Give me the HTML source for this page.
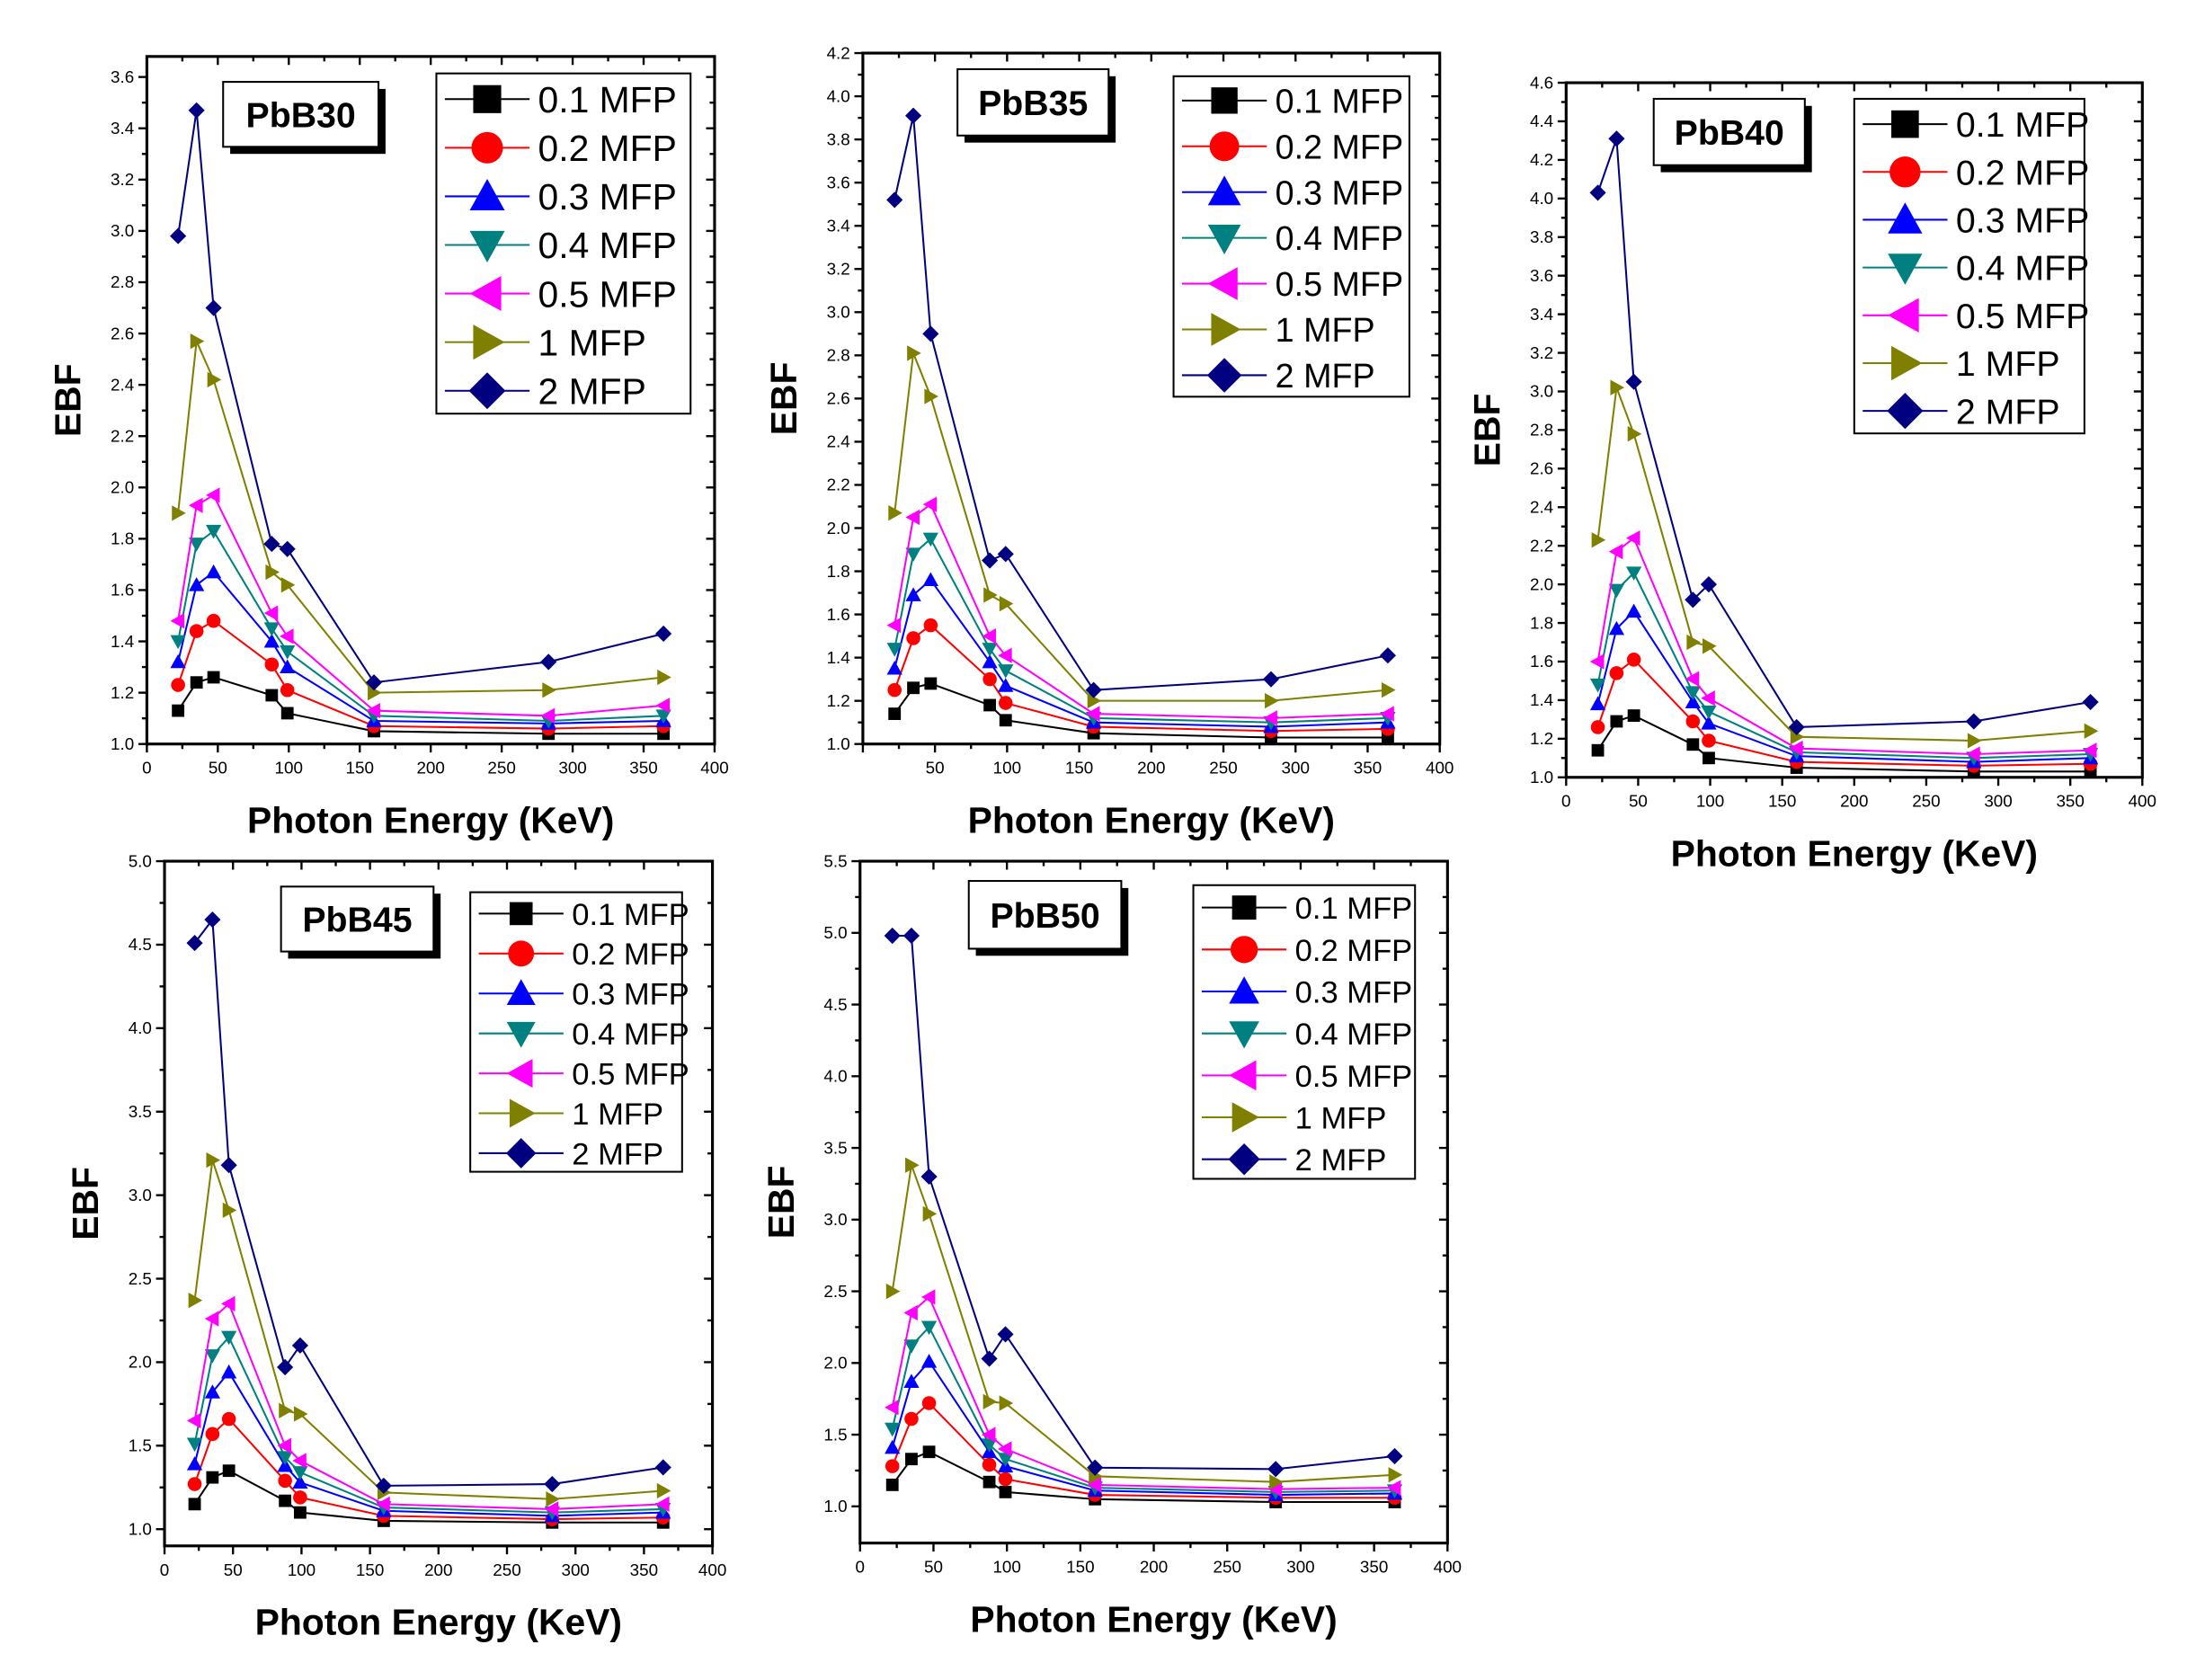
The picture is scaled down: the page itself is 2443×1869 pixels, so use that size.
<!DOCTYPE html>
<html><head><meta charset="utf-8"><style>
html,body{margin:0;padding:0;background:#fff}
svg{display:block}
text{font-family:"Liberation Sans",Arial,sans-serif}
</style></head><body>
<svg id="fig" width="2443" height="1869" viewBox="0 0 1555 1190" preserveAspectRatio="none" xmlns="http://www.w3.org/2000/svg"></svg>
<script>
const energies=[22,35,47,88,99,160,283,364];
const seriesNames=["0.1 MFP","0.2 MFP","0.3 MFP","0.4 MFP","0.5 MFP","1 MFP","2 MFP"];
const xTicks=[0,50,100,150,200,250,300,350,400];
const pbb30=[[1.13,1.24,1.26,1.19,1.12,1.05,1.04,1.04],[1.23,1.44,1.48,1.31,1.21,1.07,1.06,1.07],[1.32,1.62,1.67,1.40,1.30,1.09,1.08,1.09],[1.40,1.78,1.83,1.45,1.36,1.11,1.09,1.11],[1.48,1.93,1.97,1.51,1.42,1.13,1.11,1.15],[1.90,2.57,2.42,1.67,1.62,1.20,1.21,1.26],[2.98,3.47,2.70,1.78,1.76,1.24,1.32,1.43]];
const pbb35=[[1.14,1.26,1.28,1.18,1.11,1.05,1.03,1.03],[1.25,1.49,1.55,1.30,1.19,1.08,1.06,1.07],[1.35,1.69,1.76,1.38,1.27,1.10,1.08,1.10],[1.44,1.88,1.95,1.44,1.34,1.12,1.10,1.12],[1.55,2.05,2.11,1.50,1.41,1.14,1.12,1.14],[2.07,2.81,2.61,1.69,1.65,1.20,1.20,1.25],[3.52,3.91,2.90,1.85,1.88,1.25,1.30,1.41]];
const pbb40=[[1.14,1.29,1.32,1.17,1.10,1.05,1.03,1.03],[1.26,1.54,1.61,1.29,1.19,1.08,1.06,1.07],[1.38,1.77,1.86,1.39,1.28,1.11,1.08,1.10],[1.48,1.97,2.06,1.44,1.34,1.13,1.10,1.12],[1.60,2.17,2.24,1.51,1.41,1.15,1.12,1.14],[2.23,3.02,2.78,1.70,1.68,1.21,1.19,1.24],[4.03,4.31,3.05,1.92,2.00,1.26,1.29,1.39]];
const pbb45=[[1.15,1.31,1.35,1.17,1.10,1.05,1.04,1.04],[1.27,1.57,1.66,1.29,1.19,1.08,1.06,1.07],[1.39,1.82,1.94,1.38,1.28,1.11,1.08,1.10],[1.51,2.04,2.15,1.43,1.34,1.13,1.10,1.12],[1.65,2.26,2.35,1.50,1.41,1.15,1.12,1.15],[2.37,3.21,2.91,1.71,1.69,1.22,1.18,1.23],[4.51,4.65,3.18,1.97,2.10,1.26,1.27,1.37]];
const pbb50=[[1.15,1.33,1.38,1.17,1.10,1.05,1.03,1.03],[1.28,1.61,1.72,1.29,1.19,1.08,1.06,1.06],[1.41,1.87,2.01,1.38,1.28,1.11,1.08,1.09],[1.54,2.12,2.25,1.43,1.33,1.13,1.10,1.11],[1.69,2.35,2.46,1.50,1.40,1.15,1.12,1.13],[2.50,3.38,3.04,1.73,1.72,1.21,1.17,1.22],[4.98,4.98,3.30,2.03,2.20,1.27,1.26,1.35]];
const yTicks30=[1.0,1.2,1.4,1.6,1.8,2.0,2.2,2.4,2.6,2.8,3.0,3.2,3.4,3.6];
const yTicks35=[1.0,1.2,1.4,1.6,1.8,2.0,2.2,2.4,2.6,2.8,3.0,3.2,3.4,3.6,3.8,4.0,4.2];
const yTicks40=[1.0,1.2,1.4,1.6,1.8,2.0,2.2,2.4,2.6,2.8,3.0,3.2,3.4,3.6,3.8,4.0,4.2,4.4,4.6];
const yTicks45=[1.0,1.5,2.0,2.5,3.0,3.5,4.0,4.5,5.0];
const yTicks50=[1.0,1.5,2.0,2.5,3.0,3.5,4.0,4.5,5.0,5.5];

const colors=["#000000","#ff0000","#0000ff","#008080","#ff00ff","#808000","#000080"];
const shapes=["square","circle","up","down","left","right","diamond"];
const NS="http://www.w3.org/2000/svg";
const svg=document.getElementById("fig");
function el(tag,attrs,parent){const e=document.createElementNS(NS,tag);for(const k in attrs)e.setAttribute(k,attrs[k]);(parent||svg).appendChild(e);return e;}
function marker(g,shape,cx,cy,s,color){
  let e;
  if(shape==="square")e=el("rect",{x:cx-s*0.8,y:cy-s*0.8,width:s*1.6,height:s*1.6},g);
  else if(shape==="circle")e=el("circle",{cx:cx,cy:cy,r:s*0.9},g);
  else{let p;
    if(shape==="up")p=[[cx,cy-s],[cx+s,cy+s*0.8],[cx-s,cy+s*0.8]];
    else if(shape==="down")p=[[cx,cy+s],[cx+s,cy-s*0.8],[cx-s,cy-s*0.8]];
    else if(shape==="left")p=[[cx-s,cy],[cx+s*0.8,cy-s],[cx+s*0.8,cy+s]];
    else if(shape==="right")p=[[cx+s,cy],[cx-s*0.8,cy-s],[cx-s*0.8,cy+s]];
    else p=[[cx,cy-s*1.05],[cx+s*1.05,cy],[cx,cy+s*1.05],[cx-s*1.05,cy]];
    e=el("polygon",{points:p.map(q=>q.join(",")).join(" ")},g);}
  e.setAttribute("fill",color);
  return e;
}
const panels=[
 {name:"PbB30",data:pbb30,yt:yTicks30,L:104,R:506,T:40,B:527,ymin:1.0,ymax:3.68,minor:0.1,zero:true,title:[158,58,110,46],leg:[309,52,180,241],fs:26},
 {name:"PbB35",data:pbb35,yt:yTicks35,L:611,R:1019.5,T:37.6,B:527,ymin:1.0,ymax:4.2,minor:0.1,zero:false,title:[678,49,107,47],leg:[831,54,167,227],fs:24},
 {name:"PbB40",data:pbb40,yt:yTicks40,L:1109,R:1517,T:58.6,B:550.6,ymin:1.0,ymax:4.6,minor:0.1,zero:true,title:[1171,70,107,47],leg:[1313,70,163,237],fs:25},
 {name:"PbB45",data:pbb45,yt:yTicks45,L:116.5,R:504.5,T:610,B:1095,ymin:0.9,ymax:5.0,minor:0.25,zero:true,title:[199,628,108,46],leg:[333,632,150,198],fs:22},
 {name:"PbB50",data:pbb50,yt:yTicks50,L:609,R:1025,T:610,B:1093,ymin:0.744,ymax:5.5,minor:0.25,zero:true,title:[686,624,108,48],leg:[845,627,157,208],fs:22}
];
panels.forEach((p,pi)=>{
  const g=el("g",{});
  
  
  const xs=v=>p.L+(v-0)/400*(p.R-p.L);
  const ys=v=>p.B-(v-p.ymin)/(p.ymax-p.ymin)*(p.B-p.T);
  xTicks.forEach(t=>{
    const x=xs(t);
    el("line",{x1:x,y1:p.B,x2:x,y2:p.B+6,stroke:"#000","stroke-width":1.5},g);
    el("line",{x1:x,y1:p.T,x2:x,y2:p.T+6,stroke:"#000","stroke-width":1.5},g);
    if(t<400){const xm=xs(t+25);
      el("line",{x1:xm,y1:p.B,x2:xm,y2:p.B+3.5,stroke:"#000","stroke-width":1.5},g);
      el("line",{x1:xm,y1:p.T,x2:xm,y2:p.T+3.5,stroke:"#000","stroke-width":1.5},g);}
    if(t===0&&!p.zero)return;
    const tx=el("text",{x:x,y:p.B+21,"font-size":12,"text-anchor":"middle"},g);
    
    
    tx.textContent=t;
  });
  p.yt.forEach(t=>{
    const y=ys(t);
    el("line",{x1:p.L-6,y1:y,x2:p.L,y2:y,stroke:"#000","stroke-width":1.5},g);
    el("line",{x1:p.R-6,y1:y,x2:p.R,y2:y,stroke:"#000","stroke-width":1.5},g);
    const ym=ys(t+p.minor);
    if(ym>=p.T-0.5){
      el("line",{x1:p.L-3.5,y1:ym,x2:p.L,y2:ym,stroke:"#000","stroke-width":1.5},g);
      el("line",{x1:p.R-3.5,y1:ym,x2:p.R,y2:ym,stroke:"#000","stroke-width":1.5},g);}
    const tx=el("text",{x:p.L-9,y:y+4,"font-size":12,"text-anchor":"end"},g);
    
    
    tx.textContent=t.toFixed(1);
  });
  const fr=el("rect",{x:p.L,y:p.T,width:p.R-p.L,height:p.B-p.T,fill:"none",stroke:"#000","stroke-width":2},g);
  
  
  p.data.forEach((vals,si)=>{
    const sg=el("g",{},g);
    
    
    const pts=vals.map((v,i)=>xs(energies[i])+","+ys(v)).join(" ");
    el("polyline",{points:pts,fill:"none",stroke:colors[si],"stroke-width":1.3},sg);
    vals.forEach((v,i)=>{
      const m=marker(sg,shapes[si],xs(energies[i]),ys(v),5.5,colors[si]);
      
      
    });
  });
  const [tx0,ty0,tw,th]=p.title;
  const tg=el("g",{},g);
  
  
  el("rect",{x:tx0+5,y:ty0+5,width:tw,height:th,fill:"#000"},tg);
  el("rect",{x:tx0,y:ty0,width:tw,height:th,fill:"#fff",stroke:"#000","stroke-width":1.3},tg);
  const tt=el("text",{x:tx0+tw/2,y:ty0+th/2+9,"font-size":25,"font-weight":"bold","text-anchor":"middle"},tg);
  tt.textContent=p.name;
  const [lx,ly,lw,lh]=p.leg;
  const lg=el("g",{},g);
  
  
  el("rect",{x:lx,y:ly,width:lw,height:lh,fill:"#fff",stroke:"#000","stroke-width":1.3},lg);
  const rowH=lh/7;
  seriesNames.forEach((n,si)=>{
    const cy=ly+rowH*(si+0.5)+1;
    const eg=el("g",{},lg);
    
    
    el("line",{x1:lx+6,y1:cy,x2:lx+66,y2:cy,stroke:colors[si],"stroke-width":1.3},eg);
    marker(eg,shapes[si],lx+36,cy,rowH*0.36,colors[si]);
    const t=el("text",{x:lx+72,y:cy+p.fs*0.36,"font-size":p.fs},eg);
    t.textContent=n;
  });
  const xt=el("text",{x:(p.L+p.R)/2,y:p.B+63,"font-size":26,"font-weight":"bold","text-anchor":"middle"},g);
  
  
  xt.textContent="Photon Energy (KeV)";
  const yx=p.L-47, yy=(p.T+p.B)/2;
  const yt=el("text",{x:yx,y:yy,"font-size":26,"font-weight":"bold","text-anchor":"middle",transform:"rotate(-90 "+yx+" "+yy+")"},g);
  
  
  yt.textContent="EBF";
});
</script>
</body></html>
